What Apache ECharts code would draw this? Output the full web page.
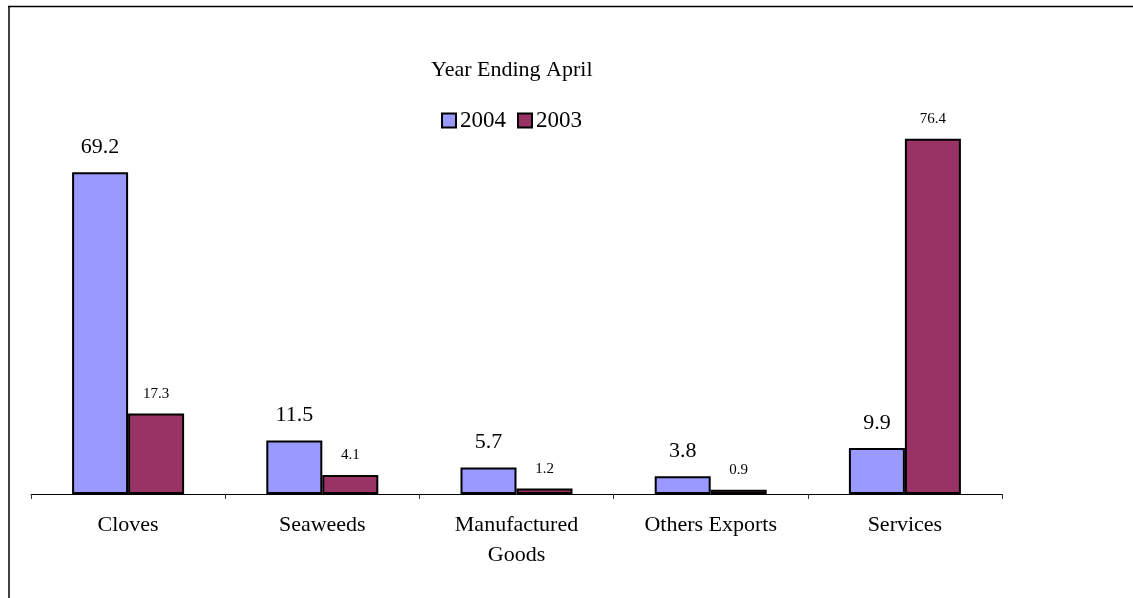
<!DOCTYPE html>
<html>
<head>
<meta charset="utf-8">
<script src="https://cdn.jsdelivr.net/npm/echarts@6/dist/echarts.min.js"></script>
<style>
html,body{margin:0;padding:0;background:#fff;}
#chart{width:1133px;height:598px;}
</style>
</head>
<body>
<div id="chart"></div>
<script>
var categories = ['Cloves', 'Seaweeds', 'Manufactured\nGoods', 'Others Exports', 'Services'];
var values2004 = [69.2, 11.5, 5.7, 3.8, 9.9];
var values2003 = [17.3, 4.1, 1.2, 0.9, 76.4];
var seriesNames = ['2004', '2003'];
var titleText = 'Year Ending April';

var FONT = '"Liberation Serif", "Times New Roman", serif';
var chart = echarts.init(document.getElementById('chart'), null, {renderer: 'canvas'});
chart.setOption({
  backgroundColor: '#ffffff',
  animation: false,
  title: {
    text: titleText,
    left: 426,
    top: 54,
    textStyle: {fontFamily: FONT, fontSize: 22, fontWeight: 'normal', color: '#000'}
  },
  legend: {
    data: seriesNames,
    left: 436,
    top: 104,
    itemWidth: 14,
    itemHeight: 14,
    itemGap: 11,
    textStyle: {fontFamily: FONT, fontSize: 23, color: '#000', padding: [0, 0, 0, -1]},
    icon: 'rect'
  },
  grid: {left: 31, right: 131, top: 29, bottom: 104, containLabel: false},
  xAxis: {
    type: 'category',
    data: categories,
    axisLine: {lineStyle: {color: '#000', width: 1}},
    axisTick: {show: true, length: 5, lineStyle: {color: '#333', width: 1}},
    axisLabel: {fontFamily: FONT, fontSize: 22, color: '#000', margin: 16, lineHeight: 30, interval: 0}
  },
  yAxis: {
    type: 'value',
    min: 0,
    max: 100,
    show: false
  },
  series: [
    {
      name: seriesNames[0],
      type: 'bar',
      data: values2004,
      barWidth: 56,
      barGap: '0%',
      itemStyle: {color: '#9999FF', borderColor: '#000', borderWidth: 2},
      label: {show: true, position: 'top', distance: 14, fontFamily: FONT, fontSize: 22, color: '#000'}
    },
    {
      name: seriesNames[1],
      type: 'bar',
      data: values2003,
      barWidth: 56,
      barGap: '0%',
      itemStyle: {color: '#993366', borderColor: '#000', borderWidth: 2},
      label: {show: true, position: 'top', distance: 12, fontFamily: FONT, fontSize: 15, color: '#000'}
    }
  ],
  graphic: [
    {type: 'line', shape: {x1: 8, y1: 6.5, x2: 1133, y2: 6.5}, style: {stroke: '#000', lineWidth: 1.5}, silent: true},
    {type: 'line', shape: {x1: 9, y1: 6, x2: 9, y2: 598}, style: {stroke: '#000', lineWidth: 1.5}, silent: true}
  ]
});
</script>
</body>
</html>
